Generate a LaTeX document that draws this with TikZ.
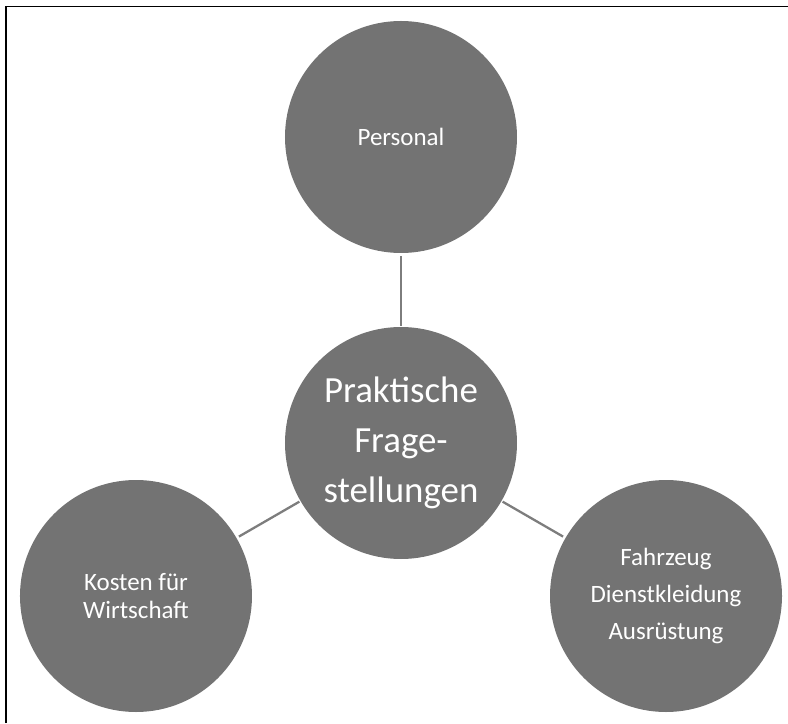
\documentclass[tikz,border=0pt]{standalone}
\usepackage{fontspec}
\setmainfont{Carlito}
\usepackage{tikz}
\definecolor{circlegray}{RGB}{115,115,115}
\definecolor{linkgray}{RGB}{125,125,125}

\begin{document}
\begin{tikzpicture}[
    every node/.style={circle, fill=circlegray, text=white, align=center, inner sep=0pt, minimum size=4.64cm},
    topic/.style={font=\fontsize{14.2}{21}\selectfont},
    hub/.style={font=\fontsize{21}{28.5}\selectfont},
    link/.style={draw=linkgray, line width=1.3pt, shorten <=0.02cm, shorten >=0.05cm}
]
\useasboundingbox (-8.02,-5.60) rectangle (7.74,8.86);
\draw[line width=1.1pt] (-7.906,-5.60) -- (-7.906,8.73) -- (7.74,8.73);

\node[hub] (center) at (0,0) {Praktische\\Frage-\\stellungen};
\node[topic] (personal) at (90:6.12) {Personal};
\node[topic, font=\fontsize{14.2}{15.6}\selectfont] (kosten) at (210:6.12) {Kosten für\\Wirtschaft};
\node[topic] (ausstattung) at (330:6.12) {Fahrzeug\\Dienstkleidung\\Ausrüstung};

\draw[link] (center) -- (personal);
\draw[link] (center) -- (kosten);
\draw[link] (center) -- (ausstattung);
\end{tikzpicture}
\end{document}
